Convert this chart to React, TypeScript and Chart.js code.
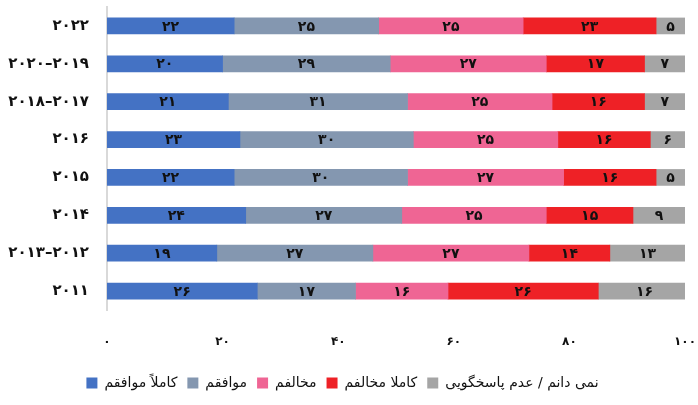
import React, { useEffect, useRef } from "react";
import { Chart, registerables } from "chart.js";

Chart.register(...registerables);

const categories = [
  "۲۰۲۲",
  "۲۰۲۰–۲۰۱۹",
  "۲۰۱۸–۲۰۱۷",
  "۲۰۱۶",
  "۲۰۱۵",
  "۲۰۱۴",
  "۲۰۱۳–۲۰۱۲",
  "۲۰۱۱",
];

const seriesNames = [
  "کاملاً موافقم",
  "موافقم",
  "مخالفم",
  "کاملا مخالفم",
  "نمی دانم / عدم پاسخگویی",
];

const stronglyAgree = [22, 20, 21, 23, 22, 24, 19, 26];
const agree = [25, 29, 31, 30, 30, 27, 27, 17];
const disagree = [25, 27, 25, 25, 27, 25, 27, 16];
const stronglyDisagree = [23, 17, 16, 16, 16, 15, 14, 26];
const dontKnow = [5, 7, 7, 6, 5, 9, 13, 16];

const xTicks = [0, 20, 40, 60, 80, 100];

const colors = ["#4472C4", "#8497B0", "#EF6594", "#EE2126", "#A5A5A5"];

const FONT = "'DejaVu Sans', sans-serif";

const toPersian = (v: number | string) =>
  String(v).replace(/\d/g, (d) => "۰۱۲۳۴۵۶۷۸۹"[Number(d)]);

const labelPlugin = {
  id: "segLabels",
  afterDatasetsDraw(chart: any) {
    const ctx = chart.ctx;
    ctx.save();
    ctx.font = `bold 14px ${FONT}`;
    ctx.fillStyle = "#111";
    ctx.textAlign = "center";
    ctx.textBaseline = "middle";
    chart.data.datasets.forEach((ds: any, di: number) => {
      const meta = chart.getDatasetMeta(di);
      meta.data.forEach((bar: any, i: number) => {
        const { x, base, y } = bar.getProps(["x", "base", "y"], true);
        ctx.fillText(toPersian(ds.data[i]), (x + base) / 2, y + 1);
      });
    });
    ctx.restore();
  },
};

export default function App() {
  const ref = useRef<HTMLCanvasElement>(null);
  useEffect(() => {
    if (!ref.current) return;
    const data = [stronglyAgree, agree, disagree, stronglyDisagree, dontKnow];
    const chart = new Chart(ref.current, {
      type: "bar",
      data: {
        labels: categories,
        datasets: data.map((d, i) => ({
          label: seriesNames[i],
          data: d,
          backgroundColor: colors[i],
          borderWidth: 0,
          barThickness: 16,
        })),
      },
      options: {
        indexAxis: "y",
        animation: false,
        responsive: false,
        maintainAspectRatio: false,
        layout: { padding: { top: 7, right: 13, left: 0, bottom: 5 } },
        scales: {
          x: {
            stacked: true,
            min: 0,
            max: 100,
            afterBuildTicks: (s: any) => {
              s.ticks = xTicks.map((v) => ({ value: v }));
            },
            afterFit: (s: any) => {
              s.height = 56;
              s.paddingLeft = 0;
              s.paddingRight = 0;
            },
            grid: { display: false, drawTicks: false },
            border: { display: false },
            ticks: {
              padding: 25,
              color: "#111",
              font: { family: FONT, size: 12, weight: "bold" },
              callback: (v: any) => toPersian(v),
              maxRotation: 0,
            },
          },
          y: {
            stacked: true,
            afterFit: (s: any) => {
              s.width = 107;
              s.paddingTop = 0;
              s.paddingBottom = 0;
            },
            grid: { display: false, drawTicks: false },
            border: { display: true, color: "#D9D9D9", width: 2 },
            ticks: {
              padding: 18,
              color: "#111",
              font: { family: FONT, size: 15, weight: "bold" },
            },
          },
        },
        plugins: {
          legend: {
            position: "bottom",
            labels: {
              boxWidth: 11,
              boxHeight: 11,
              padding: 10,
              color: "#111",
              font: { family: FONT, size: 14 },
            },
          },
          tooltip: { enabled: false },
        },
      },
      plugins: [labelPlugin],
    } as any);
    return () => chart.destroy();
  }, []);
  return (
    <div style={{ position: "fixed", left: 0, top: 0, width: 698, height: 405, background: "#fff" }}>
      <canvas ref={ref} width={698} height={405} style={{ width: 698, height: 405 }} />
    </div>
  );
}
